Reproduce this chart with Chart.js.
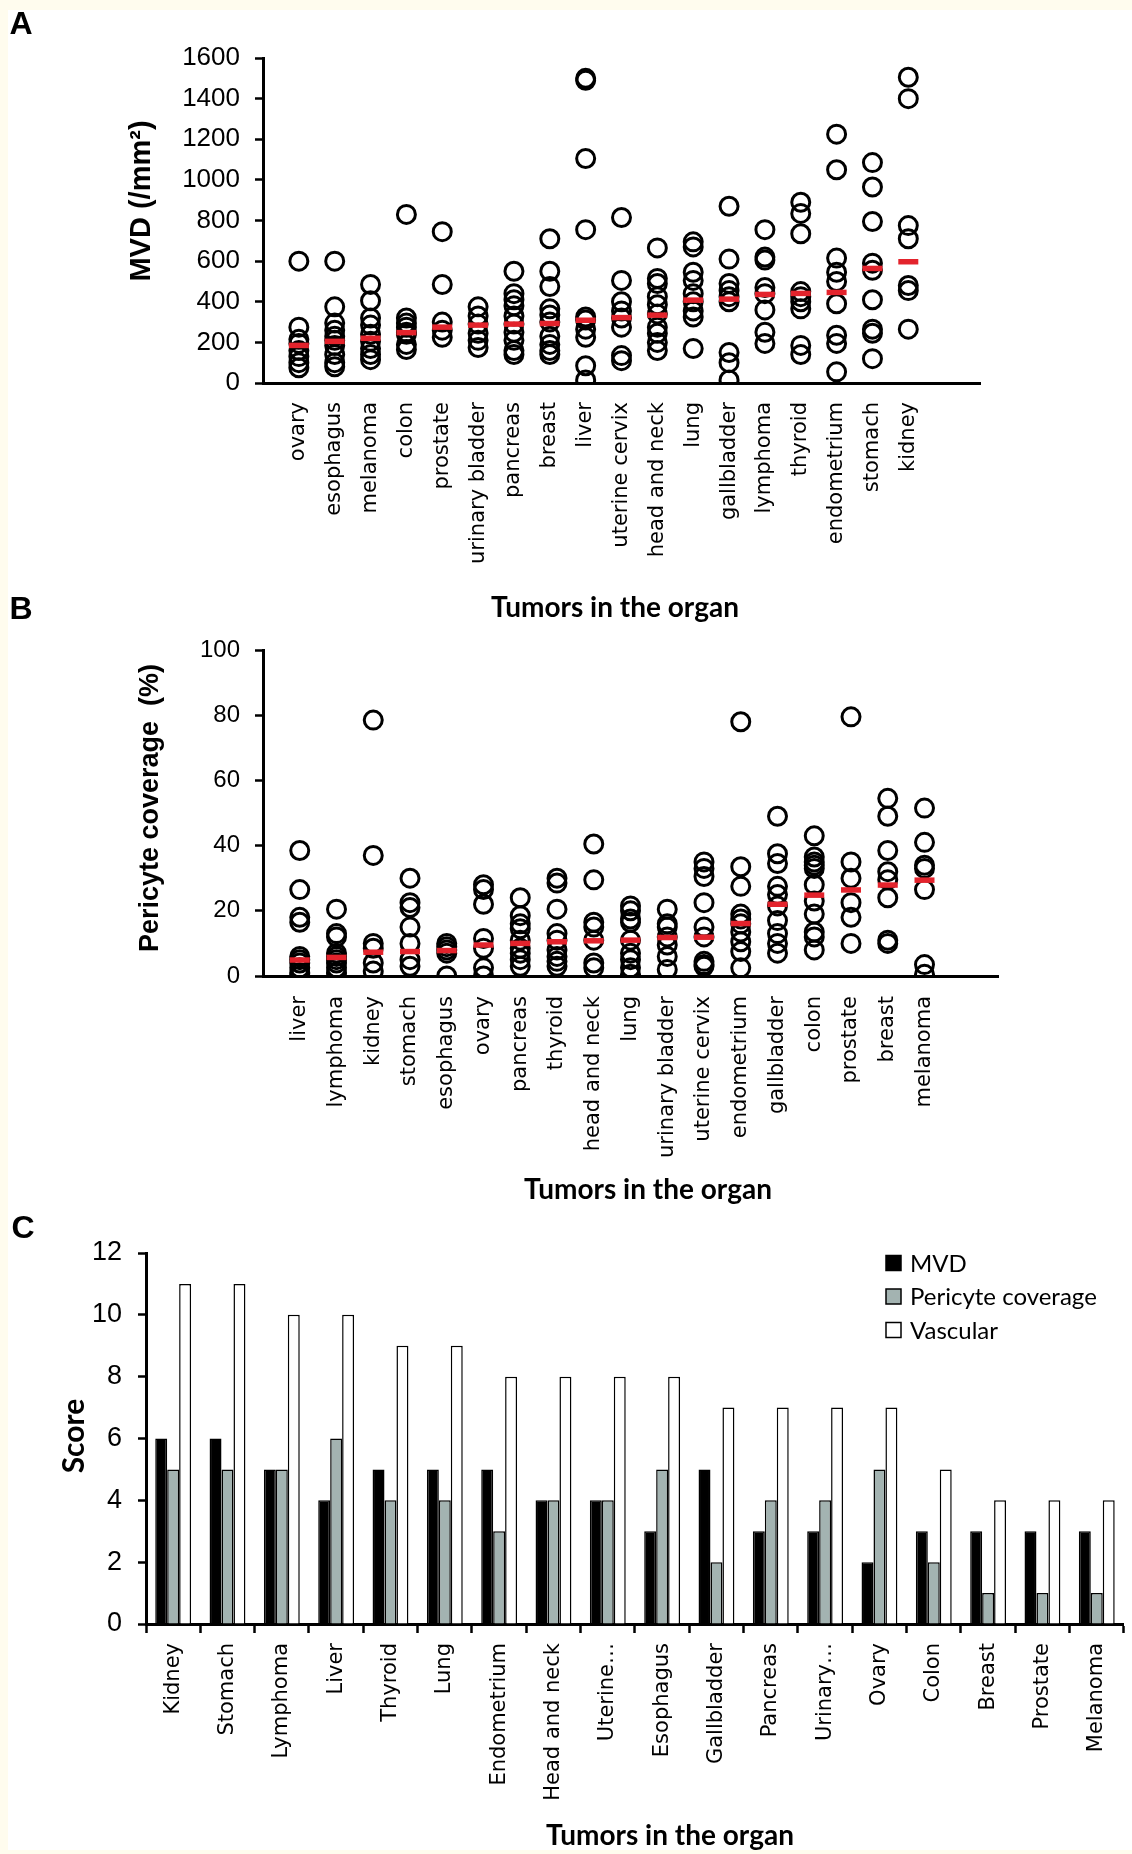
<!DOCTYPE html>
<html>
<head>
<meta charset="utf-8">
<script src="https://cdn.jsdelivr.net/npm/chart.js@4.4.1/dist/chart.umd.min.js"></script>
<style>
  html, body { margin: 0; padding: 0; }
  body { width: 1132px; height: 1854px; background: #fffcee; position: relative; overflow: hidden; }
  #sheet { position: absolute; left: 8px; top: 10px; right: 0; bottom: 4px; background: #fff; }
  canvas { position: absolute; left: 0; }
</style>
</head>
<body>
<div id="sheet"></div>
<canvas id="chartA" width="1132" height="640" style="top:0;width:1132px;height:640px"></canvas>
<canvas id="chartB" width="1132" height="650" style="top:590px;width:1132px;height:650px"></canvas>
<canvas id="chartC" width="1132" height="654" style="top:1200px;width:1132px;height:654px"></canvas>
<script>
// --- A: microvessel density per tumour ---
const mvdCategories = ["ovary", "esophagus", "melanoma", "colon", "prostate", "urinary bladder", "pancreas", "breast", "liver",
  "uterine cervix", "head and neck", "lung", "gallbladder", "lymphoma", "thyroid", "endometrium", "stomach", "kidney"];
const mvdValues = [
  [600, 275, 215, 195, 160, 130, 100, 75],
  [600, 375, 295, 260, 230, 210, 185, 140, 100, 80],
  [485, 405, 320, 285, 240, 205, 170, 140, 115],
  [830, 320, 295, 275, 250, 240, 190, 165],
  [745, 485, 300, 260, 225],
  [375, 330, 290, 245, 210, 175],
  [550, 440, 410, 380, 330, 290, 250, 210, 160, 140],
  [710, 550, 475, 365, 335, 300, 230, 190, 160, 140],
  [1500, 1490, 1105, 755, 325, 310, 265, 225, 85, 15],
  [815, 505, 400, 355, 320, 275, 135, 110],
  [665, 515, 490, 425, 385, 340, 275, 245, 200, 160],
  [695, 670, 545, 505, 440, 400, 355, 325, 170],
  [870, 610, 490, 455, 425, 400, 150, 100, 15],
  [755, 620, 605, 470, 440, 360, 250, 195],
  [890, 835, 735, 450, 425, 400, 365, 185, 140],
  [1225, 1050, 615, 545, 500, 390, 235, 195, 55],
  [1085, 965, 795, 590, 555, 410, 265, 245, 120],
  [1505, 1400, 775, 710, 480, 455, 265]
];
const mvdMedians = [185, 205, 220, 248, 275, 285, 290, 293, 309, 322, 334, 408, 413, 436, 441, 446, 564, 597];

// --- B: pericyte coverage per tumour ---
const pcCategories = ["liver", "lymphoma", "kidney", "stomach", "esophagus", "ovary", "pancreas", "thyroid", "head and neck",
  "lung", "urinary bladder", "uterine cervix", "endometrium", "gallbladder", "colon", "prostate", "breast", "melanoma"];
const pcValues = [
  [38.5, 26.5, 18, 16.5, 6, 5, 4, 2.5, 1, 0],
  [20.5, 13, 12, 7, 6, 5, 4, 2.5, 1],
  [78.5, 37, 10, 8.5, 4, 1.5],
  [30, 22.5, 21, 15, 10, 5, 3],
  [10, 9, 8, 7, 0],
  [28, 26.5, 22, 11.5, 8.5, 2.5, 0],
  [24, 18.5, 16, 14.5, 11, 8.5, 7, 5, 3],
  [30, 28.5, 20.5, 13, 11, 8, 6, 4.5, 3],
  [40.5, 29.5, 16.5, 15, 11, 4, 2.5],
  [21.5, 20, 17.5, 16.5, 11, 7, 5, 2.5, 0.5],
  [20.5, 16, 15, 12, 9.5, 6, 2],
  [35, 33, 30.5, 22.5, 15, 12, 4.5, 3.5, 3],
  [78, 33.5, 27.5, 19, 17.5, 16, 13.5, 10.5, 7.5, 2.5],
  [49, 37.5, 34.5, 27.5, 25, 21.5, 17, 13, 10, 7],
  [43, 36.5, 35, 34, 33, 28, 23, 19, 13.5, 12, 8],
  [79.5, 35, 30, 22.5, 18, 10],
  [54.5, 49, 38.5, 32, 29.5, 24, 11, 10],
  [51.5, 41, 34, 33, 26.5, 3.5, 0.5]
];
const pcMedians = [4.9, 5.7, 7.3, 7.5, 7.8, 9.5, 10, 10.5, 10.8, 11, 11.8, 11.9, 16.1, 22, 24.8, 26.4, 27.9, 29.4];

// --- C: scores ---
const scoreCategories = ["Kidney", "Stomach", "Lymphoma", "Liver", "Thyroid", "Lung", "Endometrium", "Head and neck", "Uterine…",
  "Esophagus", "Gallbladder", "Pancreas", "Urinary…", "Ovary", "Colon", "Breast", "Prostate", "Melanoma"];
const scoreMvd = [6, 6, 5, 4, 5, 5, 5, 4, 4, 3, 5, 3, 3, 2, 3, 3, 3, 3];
const scorePericyte = [5, 5, 5, 6, 4, 4, 3, 4, 4, 5, 2, 4, 4, 5, 2, 1, 1, 1];
const scoreVascular = [11, 11, 10, 10, 9, 9, 8, 8, 8, 8, 7, 7, 7, 7, 5, 4, 4, 4];

const titleFont = "bold 28px Lato, 'Liberation Sans Narrow', sans-serif";
const letterFont = "bold 32px 'Liberation Sans', Arial, sans-serif";

// free text (panel letters, axis titles) drawn on the canvas
const panelText = {
  id: "panelText",
  afterDraw(chart, args, opts) {
    const ctx = chart.ctx;
    (opts.items || []).forEach(it => {
      ctx.save();
      ctx.font = it.font;
      ctx.fillStyle = "#000";
      ctx.textAlign = "center";
      ctx.textBaseline = "middle";
      ctx.translate(it.x, it.y);
      if (it.rotate) ctx.rotate(-Math.PI / 2);
      ctx.fillText(it.text, 0, 0);
      ctx.restore();
    });
  }
};

// square legend inside the plot, one row per dataset
const boxLegend = {
  id: "boxLegend",
  afterDraw(chart, args, opts) {
    const ctx = chart.ctx;
    chart.data.datasets.forEach((ds, i) => {
      const y = opts.y + i * opts.gap;
      ctx.save();
      ctx.fillStyle = ds.backgroundColor;
      ctx.fillRect(opts.x, y - 7.5, 15, 15);
      ctx.strokeStyle = "#000";
      ctx.lineWidth = 1.5;
      ctx.strokeRect(opts.x, y - 7.5, 15, 15);
      ctx.fillStyle = "#000";
      ctx.font = opts.font;
      ctx.textAlign = "left";
      ctx.textBaseline = "middle";
      ctx.fillText(ds.label, opts.x + 24, y + 1);
      ctx.restore();
    });
  }
};

function dotPanel(canvasId, cats, values, medians, yMax, yStep, frame, texts) {
  const points = [];
  values.forEach((arr, i) => arr.forEach(v => points.push({ x: i + 1, y: v })));
  const medianPts = medians.map((m, i) => ({ x: i + 1, y: m }));

  return new Chart(document.getElementById(canvasId), {
    type: "scatter",
    data: {
      datasets: [
        { data: medianPts, pointStyle: "line", pointRadius: 10, borderColor: "#e3232c", borderWidth: 5.5 },
        { data: points, pointStyle: "circle", pointRadius: 9, borderColor: "#000", backgroundColor: "rgba(0,0,0,0)", borderWidth: 3 }
      ]
    },
    options: {
      responsive: false,
      animation: false,
      devicePixelRatio: 1,
      layout: { padding: { top: frame.top, right: frame.right, left: 0, bottom: 0 } },
      plugins: {
        legend: { display: false },
        tooltip: { enabled: false },
        panelText: { items: texts }
      },
      scales: {
        x: {
          type: "linear", min: 0, max: 20,
          afterFit: s => { s.height = frame.xHeight; },
          grid: { display: false, drawTicks: false },
          border: { display: true, color: "#000", width: 3 },
          ticks: {
            stepSize: 1, maxTicksLimit: 30, autoSkip: false, minRotation: 90, maxRotation: 90,
            padding: frame.labelPad, color: "#000",
            font: { family: "'DejaVu Sans'", size: 21 },
            callback: v => cats[v - 1] || ""
          }
        },
        y: {
          min: 0, max: yMax,
          afterFit: s => { s.width = frame.left; },
          grid: { drawOnChartArea: false, drawTicks: true, tickLength: 8, tickWidth: 2.5, tickColor: "#000" },
          border: { color: "#000", width: 3 },
          ticks: {
            stepSize: yStep, padding: 15, color: "#000",
            font: { family: "'Liberation Sans', Arial", size: frame.tickSize },
            callback: v => String(v)
          }
        }
      }
    },
    plugins: [panelText]
  });
}

dotPanel("chartA", mvdCategories, mvdValues, mvdMedians, 1600, 200,
  { top: 58, right: 152, left: 263, xHeight: 257, labelPad: 19, tickSize: 26 },
  [
    { text: "A", x: 21, y: 25, font: letterFont },
    { text: "MVD (/mm²)", x: 142, y: 201, rotate: true, font: "bold 29px 'Liberation Sans', Arial, sans-serif" },
    { text: "Tumors in the organ", x: 615, y: 608, font: titleFont }
  ]);

dotPanel("chartB", pcCategories, pcValues, pcMedians, 100, 20,
  { top: 60, right: 134, left: 263, xHeight: 264, labelPad: 20, tickSize: 24 },
  [
    { text: "B", x: 21, y: 20, font: letterFont },
    { text: "Pericyte coverage  (%)", x: 151, y: 218, rotate: true, font: "bold 27px 'Liberation Sans', Arial, sans-serif" },
    { text: "Tumors in the organ", x: 648, y: 600, font: titleFont }
  ]);

new Chart(document.getElementById("chartC"), {
  type: "bar",
  data: {
    labels: scoreCategories,
    datasets: [
      { label: "MVD", data: scoreMvd, backgroundColor: "#000000" },
      { label: "Pericyte coverage", data: scorePericyte, backgroundColor: "#a3b3b1" },
      { label: "Vascular", data: scoreVascular, backgroundColor: "#ffffff" }
    ]
  },
  options: {
    responsive: false,
    animation: false,
    devicePixelRatio: 1,
    datasets: { bar: { borderColor: "#000", borderWidth: 1.5, categoryPercentage: 0.66, barPercentage: 1 } },
    layout: { padding: { top: 53, right: 1, left: 0, bottom: 0 } },
    plugins: {
      legend: { display: false },
      tooltip: { enabled: false },
      panelText: {
        items: [
          { text: "C", x: 23, y: 29, font: letterFont },
          { text: "Score", x: 74, y: 236, rotate: true, font: "bold 30px Lato, sans-serif" },
          { text: "Tumors in the organ", x: 670, y: 636, font: titleFont }
        ]
      },
      boxLegend: { x: 886, y: 63, gap: 33.5, font: "24px Lato, sans-serif" }
    },
    scales: {
      x: {
        afterFit: s => { s.height = 230; },
        grid: { offset: true, drawOnChartArea: false, tickLength: 9, tickWidth: 2.5, tickColor: "#000" },
        border: { color: "#000", width: 3 },
        ticks: { autoSkip: false, minRotation: 90, maxRotation: 90, padding: 10, color: "#000", font: { family: "'DejaVu Sans'", size: 21 } }
      },
      y: {
        min: 0, max: 12,
        afterFit: s => { s.width = 146; },
        grid: { drawOnChartArea: false, tickLength: 8, tickWidth: 2.5, tickColor: "#000" },
        border: { color: "#000", width: 3 },
        ticks: { stepSize: 2, padding: 16, color: "#000", font: { family: "'Liberation Sans', Arial", size: 27 } }
      }
    }
  },
  plugins: [panelText, boxLegend]
});
</script>
</body>
</html>
